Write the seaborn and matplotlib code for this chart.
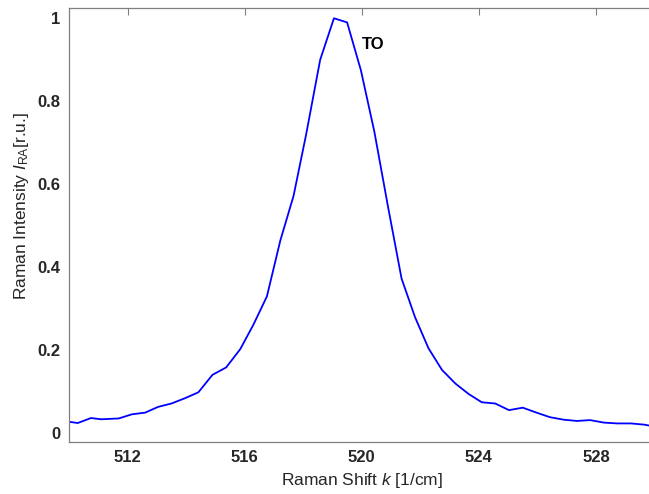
import numpy as np
import pandas as pd
import matplotlib
matplotlib.use("Agg")
import matplotlib.pyplot as plt
import seaborn as sns

# Raman spectrum
raman_shift = [510.0, 510.3, 510.75, 511.1, 511.7, 512.15, 512.6, 513.05, 513.5,
               513.97, 514.42, 514.9, 515.37, 515.85, 516.3, 516.76, 517.22,
               517.67, 518.1, 518.58, 519.05, 519.5, 519.97, 520.43, 520.9,
               521.36, 521.82, 522.28, 522.74, 523.2, 523.65, 524.1, 524.56,
               525.03, 525.5, 525.97, 526.43, 526.9, 527.35, 527.8, 528.27,
               528.73, 529.2, 529.66, 530.1]
intensity = [0.028, 0.025, 0.037, 0.034, 0.036, 0.046, 0.050, 0.064, 0.072,
             0.085, 0.099, 0.141, 0.159, 0.203, 0.262, 0.330, 0.465,
             0.572, 0.72, 0.90, 1.0, 0.99, 0.875, 0.727, 0.545,
             0.373, 0.28, 0.205, 0.153, 0.12, 0.095, 0.075, 0.072,
             0.056, 0.062, 0.050, 0.039, 0.033, 0.030, 0.032, 0.026,
             0.024, 0.024, 0.021, 0.015]
x_ticks = [512, 516, 520, 524, 528]
y_ticks = [0, 0.2, 0.4, 0.6, 0.8, 1]
y_tick_labels = ["0", "0.2", "0.4", "0.6", "0.8", "1"]
peak_label = "TO"

sns.set_style("white")
plt.rcParams["font.family"] = ["Liberation Sans", "DejaVu Sans"]
plt.rcParams["mathtext.fontset"] = "custom"
plt.rcParams["mathtext.it"] = "Liberation Sans:italic"
plt.rcParams["mathtext.rm"] = "Liberation Sans"

df = pd.DataFrame({"shift": raman_shift, "intensity": intensity})

fig = plt.figure(figsize=(6.49, 4.94), dpi=100)
# axes run slightly past the right edge, as in the cropped original
ax = fig.add_axes([69 / 649, 52.3 / 494, 585.5 / 649, 433.4 / 494])
sns.lineplot(data=df, x="shift", y="intensity", ax=ax, color="#0000ff",
             linewidth=1.3, sort=False)

ax.set_xlim(510, 530)
ax.set_ylim(-0.02, 1.024)
ax.set_xticks(x_ticks)
ax.set_xticklabels([str(t) for t in x_ticks], fontweight="bold", fontsize=12, color="#262626")
ax.set_yticks(y_ticks)
ax.set_yticklabels(y_tick_labels, fontweight="bold", fontsize=12, color="#262626")
ax.tick_params(direction="in", length=5, width=0.8, color="#7f7f7f",
               top=True, right=False, pad=6)

for side in ["left", "bottom", "top", "right"]:
    ax.spines[side].set_color("#7f7f7f")
    ax.spines[side].set_linewidth(0.9)

ax.set_xlabel(r"Raman Shift $\mathit{k}$ [1/cm]", fontsize=12.5, color="#262626")
ax.set_ylabel(r"Raman Intensity $\mathit{I}_{\mathrm{RA}}$[r.u.]", fontsize=12.5,
              color="#262626")
ax.xaxis.set_label_coords(0.5, -(480 - 441.7) / 433.4)
ax.yaxis.set_label_coords((22 - 69) / 585.5, (441.7 - 206) / 433.4)
ax.xaxis.label.set_va("center")
ax.yaxis.label.set_va("center")

ax.text(520.0, 0.936, peak_label, fontsize=12, fontweight="bold",
        ha="left", va="center", color="black")

fig.savefig("out.png", dpi=100)
